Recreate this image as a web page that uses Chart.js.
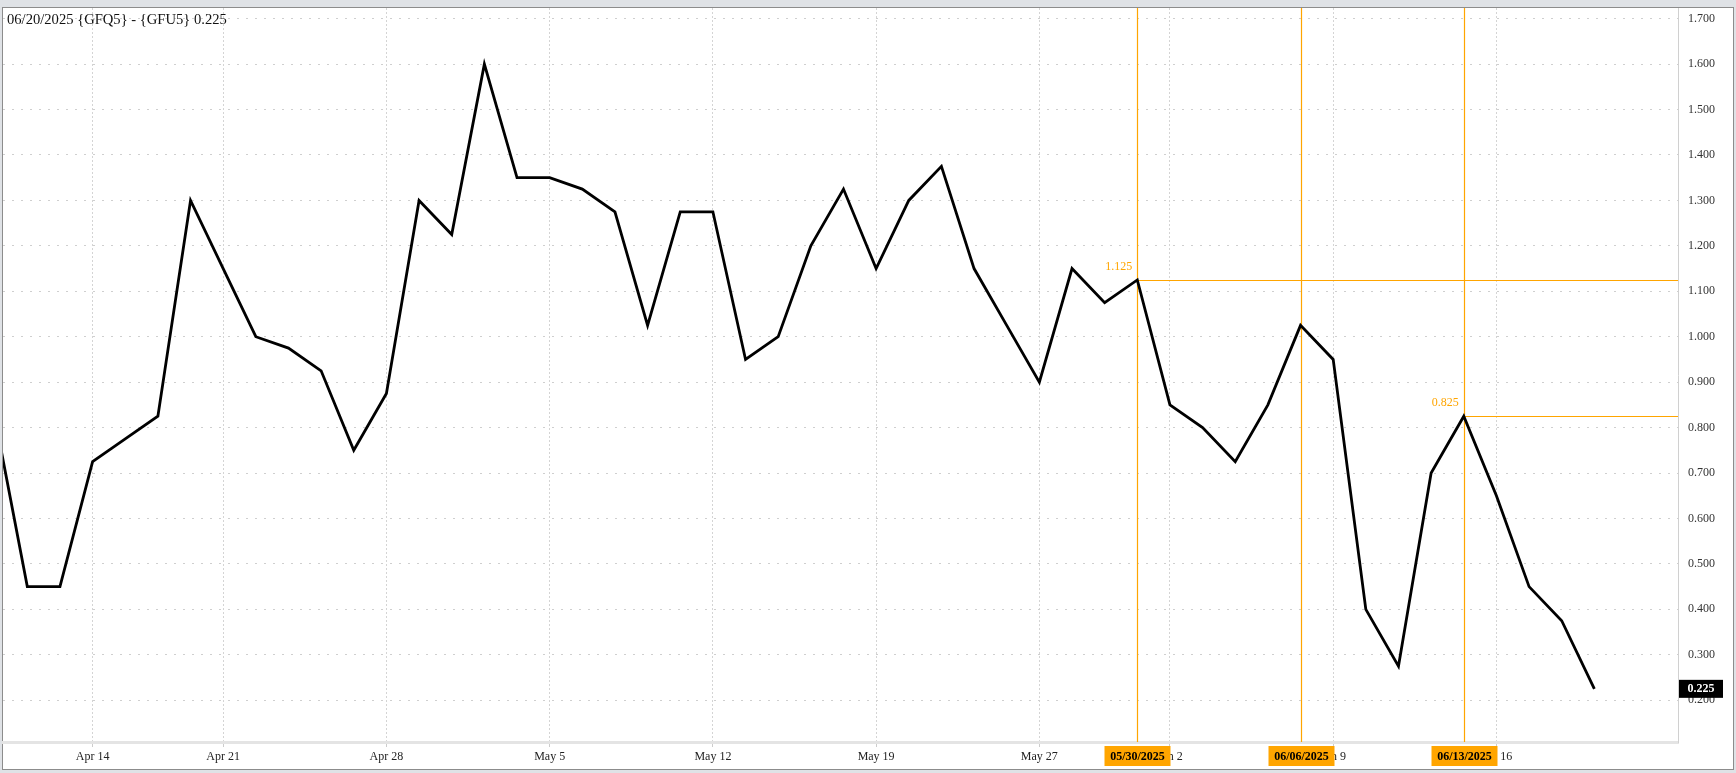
<!DOCTYPE html>
<html><head><meta charset="utf-8">
<script src="https://cdn.jsdelivr.net/npm/chart.js@4.4.0/dist/chart.umd.min.js"></script>
<style>
html,body{margin:0;padding:0;background:#dfe2e6;overflow:hidden}
#wrap{position:relative;width:1736px;height:773px}
canvas{display:block}
</style></head><body><div id="wrap"><canvas id="c" width="1736" height="773"></canvas></div>
<script>
const titleText = '06/20/2025 {GFQ5} - {GFU5} 0.225';
const dates = ['04/09/2025','04/10/2025','04/11/2025','04/14/2025','04/15/2025','04/16/2025','04/17/2025',
  '04/21/2025','04/22/2025','04/23/2025','04/24/2025','04/25/2025',
  '04/28/2025','04/29/2025','04/30/2025','05/01/2025','05/02/2025',
  '05/05/2025','05/06/2025','05/07/2025','05/08/2025','05/09/2025',
  '05/12/2025','05/13/2025','05/14/2025','05/15/2025','05/16/2025',
  '05/19/2025','05/20/2025','05/21/2025','05/22/2025','05/23/2025',
  '05/27/2025','05/28/2025','05/29/2025','05/30/2025',
  '06/02/2025','06/03/2025','06/04/2025','06/05/2025','06/06/2025',
  '06/09/2025','06/10/2025','06/11/2025','06/12/2025','06/13/2025',
  '06/16/2025','06/17/2025','06/18/2025','06/20/2025'];
const values = [0.825,0.45,0.45,0.725,0.775,0.825,1.3,
  1.15,1.0,0.975,0.925,0.75,
  0.875,1.3,1.225,1.6,1.35,
  1.35,1.325,1.275,1.025,1.275,
  1.275,0.95,1.0,1.2,1.325,
  1.15,1.3,1.375,1.15,1.025,
  0.9,1.15,1.075,1.125,
  0.85,0.8,0.725,0.85,1.025,
  0.95,0.4,0.275,0.7,0.825,
  0.65,0.45,0.375,0.225];
const tickDates = ['04/14/2025','04/21/2025','04/28/2025','05/05/2025','05/12/2025','05/19/2025','05/27/2025','06/02/2025','06/09/2025','06/16/2025'];
const tickLabels = ['Apr 14','Apr 21','Apr 28','May 5','May 12','May 19','May 27','Jun 2','Jun 9','Jun 16'];
const yTicks = [0.2,0.3,0.4,0.5,0.6,0.7,0.8,0.9,1.0,1.1,1.2,1.3,1.4,1.5,1.6,1.7];
const markerDates = ['05/30/2025','06/06/2025','06/13/2025'];
const levelDates = ['05/30/2025','06/13/2025'];

const tickIdx = tickDates.map(d => dates.indexOf(d));
const points = values.map((v, i) => ({x: i, y: v}));
const SERIF = '"Liberation Serif", "DejaVu Serif", serif';
const ORANGE = '#FFA500';

function zeroPad(s) { s.paddingTop = 0; s.paddingBottom = 0; s.paddingLeft = 0; s.paddingRight = 0; }

const framePlugin = {
  id: 'frame',
  beforeDraw(chart) {
    const ctx = chart.ctx;
    ctx.save();
    ctx.fillStyle = '#dfe2e6';
    ctx.fillRect(0, 0, 1736, 773);
    ctx.fillStyle = '#ffffff';
    ctx.fillRect(3, 8, 1730, 761);
    ctx.strokeStyle = '#8c8c8c';
    ctx.lineWidth = 1;
    ctx.strokeRect(2.5, 7.5, 1731, 762);
    ctx.restore();
  },
  beforeDatasetsDraw(chart) {
    const ctx = chart.ctx, xs = chart.scales.x, ys = chart.scales.y, ca = chart.chartArea;
    ctx.save();
    ctx.setLineDash([]);
    ctx.strokeStyle = ORANGE;
    ctx.lineWidth = 1.2;
    markerDates.forEach(d => {
      const px = Math.round(xs.getPixelForValue(dates.indexOf(d))) + 0.5;
      ctx.beginPath(); ctx.moveTo(px, ca.top); ctx.lineTo(px, ca.bottom); ctx.stroke();
    });
    levelDates.forEach(d => {
      const i = dates.indexOf(d);
      const px = xs.getPixelForValue(i);
      const py = Math.round(ys.getPixelForValue(values[i])) + 0.5;
      ctx.beginPath(); ctx.moveTo(px, py); ctx.lineTo(ca.right, py); ctx.stroke();
    });
    ctx.restore();
  },
  afterDraw(chart) {
    const ctx = chart.ctx, xs = chart.scales.x, ys = chart.scales.y, ca = chart.chartArea;
    ctx.save();
    ctx.fillStyle = '#111';
    ctx.font = '14.6px ' + SERIF;
    ctx.textAlign = 'left';
    ctx.textBaseline = 'middle';
    ctx.fillText(titleText, 7, 20.5);
    ctx.fillStyle = ORANGE;
    ctx.font = '12px ' + SERIF;
    ctx.textAlign = 'right';
    levelDates.forEach(d => {
      const i = dates.indexOf(d);
      const px = xs.getPixelForValue(i);
      const py = ys.getPixelForValue(values[i]);
      ctx.fillText(values[i].toFixed(3), px - 5, py - 13);
    });
    ctx.font = 'bold 12px ' + SERIF;
    ctx.textAlign = 'center';
    markerDates.forEach(d => {
      const px = Math.round(xs.getPixelForValue(dates.indexOf(d))) + 0.5;
      ctx.fillStyle = ORANGE;
      ctx.fillRect(px - 33, 746, 66, 20);
      ctx.fillStyle = '#000';
      ctx.fillText(d, px, 756.5);
    });
    const last = values[values.length - 1];
    const ly = ys.getPixelForValue(last);
    ctx.fillStyle = '#000';
    ctx.fillRect(ca.right + 1, ly - 9, 44, 18);
    ctx.fillStyle = '#fff';
    ctx.fillText(last.toFixed(3), ca.right + 23, ly + 0.5);
    ctx.restore();
  }
};

new Chart(document.getElementById('c'), {
  type: 'line',
  data: {
    labels: dates,
    datasets: [{
      data: points,
      borderColor: '#000',
      borderWidth: 2.8,
      pointRadius: 0,
      tension: 0,
      fill: false,
      clip: 0,
      borderJoinStyle: 'miter'
    }]
  },
  options: {
    responsive: false,
    animation: false,
    devicePixelRatio: 1,
    layout: {autoPadding: false, padding: {left: 3, top: 8, right: 2, bottom: 4}},
    plugins: {legend: {display: false}, tooltip: {enabled: false}, title: {display: false}},
    scales: {
      x: {
        type: 'linear',
        min: 0.2555,
        max: 51.562,
        afterBuildTicks: s => { s.ticks = tickIdx.map(v => ({value: v})); },
        afterFit: s => { s.height = 27; zeroPad(s); },
        ticks: {
          autoSkip: false, maxRotation: 0, minRotation: 0,
          callback: v => tickLabels[tickIdx.indexOf(v)],
          font: {family: SERIF, size: 12}, color: '#222', padding: 3
        },
        grid: {color: '#d4d4d4', tickColor: '#cccccc', tickLength: 5, drawTicks: true},
        border: {display: true, color: '#e4e4e4', width: 3, dash: [2, 2]}
      },
      y: {
        position: 'right',
        min: 0.108,
        max: 1.7235,
        afterBuildTicks: s => { s.ticks = yTicks.map(v => ({value: v})); },
        afterFit: s => { s.width = 56; zeroPad(s); },
        ticks: {
          callback: v => Number(v).toFixed(3),
          font: {family: SERIF, size: 12}, color: '#333', padding: 10,
          crossAlign: 'near'
        },
        grid: {color: '#cfcfcf', drawTicks: false},
        border: {display: true, color: '#d0d0d0', width: 1, dash: [2, 7]}
      }
    }
  },
  plugins: [framePlugin]
});
</script>
</body></html>
